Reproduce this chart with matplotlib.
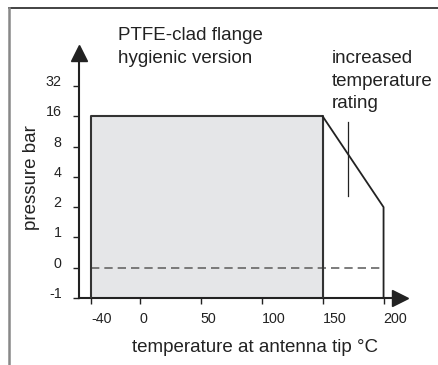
import numpy as np
import matplotlib
matplotlib.use('Agg')
import matplotlib.pyplot as plt
from matplotlib.lines import Line2D

plt.rcParams['font.family'] = ['Liberation Sans', 'DejaVu Sans']

# pressure scale ticks (bar) and temperature ticks (degC)
p_ticks = [-1, 0, 1, 2, 4, 8, 16, 32]
t_ticks = [-40, 0, 50, 100, 150, 200]

# standard range: rectangle -40..150 degC, -1..16 bar
std_t = [-40, -40, 150, 150]
std_p = [-1, 16, 16, -1]
# increased temperature rating: 150..200 degC
inc_t = [150, 200, 200]
inc_p = [16, 2, -1]
# zero line
zero_t = [-40, 197]
zero_p = [0, 0]
# marker line for label
mark_t = [171, 171]
mark_p = [14, 2.6]


# scale: linear between -1 and 1, log2 above 1
def fwd(p):
    p = np.asarray(p, dtype=float)
    return np.where(p >= 1, np.log2(np.maximum(p, 1)) + 2, p + 1)


def inv(y):
    y = np.asarray(y, dtype=float)
    return np.where(y >= 2, 2 ** (y - 2), y - 1)


fig = plt.figure(figsize=(4.39, 3.65), dpi=100)
ax = fig.add_axes([79 / 439, 1 - 298 / 365, (400 - 79) / 439, (298 - 53) / 365])
ax.set_yscale('function', functions=(fwd, inv))
ax.set_xlim(-50, 213.5)
ax.set_ylim(-1, float(inv(8.09)))

dark = '#222222'
ax.fill(std_t, std_p, color='#e5e6e8', zorder=1)
ax.plot(std_t, std_p, color='#333333', lw=1.5, zorder=3)
ax.plot(inc_t, inc_p, color='#222222', lw=1.3, zorder=3)
ax.plot(zero_t, zero_p, color='#666666', lw=1.2, ls=(0, (5, 3)), zorder=2)
ax.plot(mark_t, mark_p, color='#222222', lw=0.9, zorder=3)

for s in ['top', 'right']:
    ax.spines[s].set_visible(False)
for s in ['left', 'bottom']:
    ax.spines[s].set_color(dark)
    ax.spines[s].set_linewidth(1.5)

# arrow heads
ax.plot(1, 0, '>', color=dark, ms=11.5, transform=ax.transAxes, clip_on=False)
ax.plot(0, 1, '^', color=dark, ms=11.5, transform=ax.transAxes, clip_on=False)

ax.set_yticks(p_ticks)
ax.set_yticklabels([str(v) for v in p_ticks])
ax.set_xticks(t_ticks)
ax.set_xticklabels([str(v) for v in t_ticks], ha='left')
ax.tick_params(axis='y', length=4.5, width=1, color=dark, labelsize=10.3,
               labelcolor=dark, pad=8)
ax.tick_params(axis='x', length=4, width=1, color=dark, labelsize=10.3,
               labelcolor=dark, pad=6)
for lab in ax.get_yticklabels():
    lab.set_va('baseline')

ax.set_ylabel('pressure bar', fontsize=13.5, color=dark)
ax.yaxis.set_label_coords((32 - 79) / 321, (298 - 178) / 245)
ax.set_xlabel('temperature at antenna tip °C', fontsize=13.5, color=dark)
ax.xaxis.set_label_coords((255 - 79) / 321, -(347 - 298) / 245)
ax.xaxis.label.set_va('center')
ax.yaxis.label.set_va('center')

fig.text(118 / 439, 1 - 47 / 365, 'PTFE-clad flange\nhygienic version',
         fontsize=13.5, color=dark, va='center', ha='left', linespacing=1.42)
fig.text(332 / 439, 1 - 81 / 365, 'increased\ntemperature\nrating',
         fontsize=13.5, color=dark, va='center', ha='left', linespacing=1.45)

# page frame
fig.add_artist(Line2D([8.5 / 439, 1], [1 - 8 / 365, 1 - 8 / 365], color=dark, lw=1.2))
fig.add_artist(Line2D([8.5 / 439, 8.5 / 439], [0, 1 - 8 / 365], color='#888888', lw=1.8))

fig.savefig('out.png', dpi=100)
